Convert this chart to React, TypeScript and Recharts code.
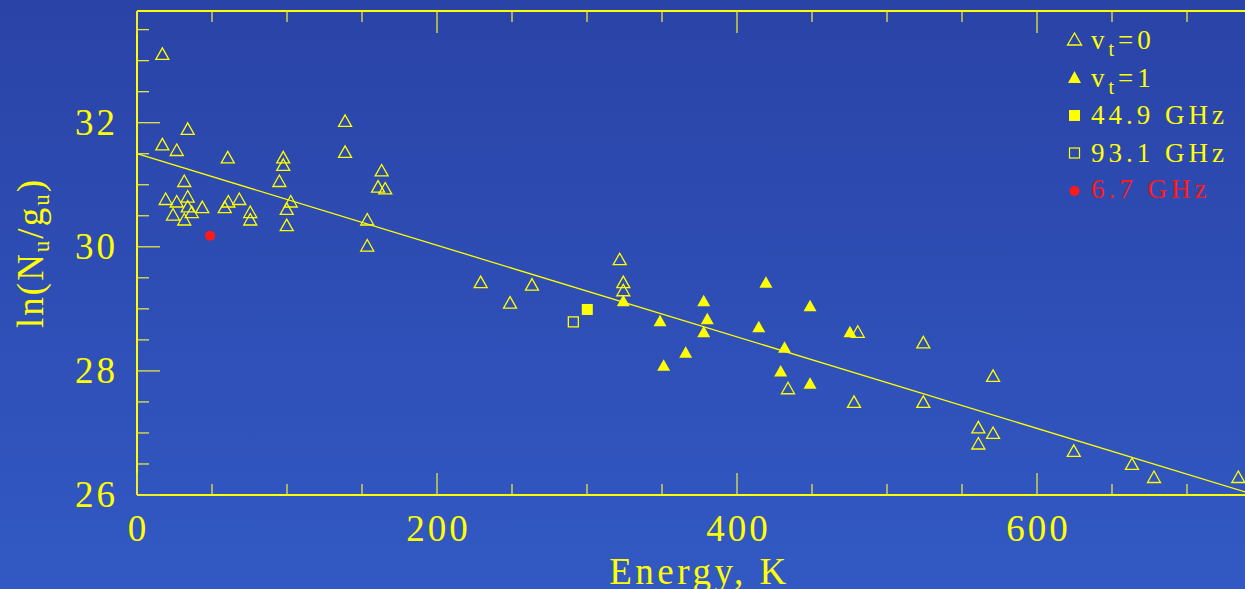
import React from "react";
import { ScatterChart, Scatter, XAxis, YAxis, ReferenceLine, Label } from "recharts";

// v_t = 0 lines (open triangles)
const V0_ENERGY = [16.9, 33.8, 16.9, 26.5, 60.5, 97.5, 97.5, 94.9, 138.7, 138.7, 163.1, 160.7, 165.5, 31.5, 19.1, 26.5, 33.8, 33.8, 36.5, 43.5, 24, 31.5, 60.9, 58.5, 68.2, 75.5, 75.5, 102.5, 99.8, 99.8, 153.5, 153.5, 229.1, 263.3, 248.7, 321.8, 324.2, 324.2, 434, 480.5, 478, 524.2, 524.2, 570.7, 560.9, 570.7, 560.9, 624.5, 663.3, 678, 734.2];
const V0_LN = [33.11, 31.9, 31.65, 31.56, 31.44, 31.44, 31.32, 31.06, 32.03, 31.53, 31.23, 30.97, 30.94, 31.06, 30.77, 30.73, 30.81, 30.65, 30.56, 30.64, 30.52, 30.44, 30.73, 30.64, 30.77, 30.56, 30.44, 30.73, 30.61, 30.35, 30.44, 30.02, 29.43, 29.39, 29.1, 29.8, 29.43, 29.3, 27.72, 28.63, 27.5, 28.46, 27.5, 27.92, 27.09, 27.0, 26.83, 26.71, 26.5, 26.29, 26.29];

// v_t = 1 lines (filled triangles)
const V1_ENERGY = [324.2, 348.7, 351.1, 365.8, 377.8, 380.2, 377.8, 419.3, 414.5, 431.7, 429.1, 448.7, 448.7, 475.3];
const V1_LN = [29.13, 28.81, 28.09, 28.3, 29.13, 28.84, 28.63, 29.43, 28.71, 28.38, 28.0, 29.05, 27.8, 28.63];

// maser lines
const G449_ENERGY = [300.2];
const G449_LN = [28.99];
const G931_ENERGY = [290.9];
const G931_LN = [28.79];
const G67_ENERGY = [48.7];
const G67_LN = [30.18];

// rotation diagram fit
const FIT_ENERGY = [0, 740];
const FIT_LN = [31.5, 26.04];

const X_TICKS = [0, 50, 100, 150, 200, 250, 300, 350, 400, 450, 500, 550, 600, 650, 700, 750];
const X_LABELS = [0, 200, 400, 600];
const Y_TICKS = [26, 26.5, 27, 27.5, 28, 28.5, 29, 29.5, 30, 30.5, 31, 31.5, 32, 32.5, 33, 33.5];
const Y_LABELS = [26, 28, 30, 32];

const YEL = "#ffff00";
const TICK = "#e6e640";
const RED = "#ff1a1a";
const FONT = "'Liberation Serif', 'DejaVu Serif', serif";

const zip = (xs: number[], ys: number[]) => xs.map((x, i) => ({ x, y: ys[i] }));

const openTri = (p: any) => (
  <polygon
    points={`${p.cx},${p.cy - 6} ${p.cx - 6.5},${p.cy + 5.5} ${p.cx + 6.5},${p.cy + 5.5}`}
    fill="none"
    stroke={YEL}
    strokeWidth={1.3}
  />
);
const fillTri = (p: any) => (
  <polygon
    points={`${p.cx},${p.cy - 6} ${p.cx - 6.5},${p.cy + 5.5} ${p.cx + 6.5},${p.cy + 5.5}`}
    fill={YEL}
  />
);
const fillSq = (p: any) => <rect x={p.cx - 5.5} y={p.cy - 5.5} width={11} height={11} fill={YEL} />;
const openSq = (p: any) => (
  <rect x={p.cx - 5} y={p.cy - 5} width={10} height={10} fill="none" stroke={YEL} strokeWidth={1.3} />
);
const redDot = (p: any) => <circle cx={p.cx} cy={p.cy} r={5} fill={RED} />;

const BottomTick = (props: any) => {
  const { x, y, payload } = props;
  const major = X_LABELS.includes(payload.value);
  return (
    <g>
      <line x1={x} x2={x} y1={y} y2={y - (major ? 22 : 11)} stroke={TICK} strokeWidth={1.3} />
      {major && (
        <text x={x + 1.5} y={y + 46} textAnchor="middle" fill={YEL} fontSize={37} fontFamily={FONT} letterSpacing={3}>
          {payload.value}
        </text>
      )}
    </g>
  );
};

const TopTick = (props: any) => {
  const { x, y, payload } = props;
  const major = X_LABELS.includes(payload.value);
  return <line x1={x} x2={x} y1={y} y2={y + (major ? 22 : 11)} stroke={TICK} strokeWidth={1.3} />;
};

const LeftTick = (props: any) => {
  const { x, y, payload } = props;
  const major = Y_LABELS.includes(payload.value);
  return (
    <g>
      <line x1={x} x2={x + (major ? 23 : 12)} y1={y} y2={y} stroke={TICK} strokeWidth={1.3} />
      {major && (
        <text x={x - 19} y={y + 12} textAnchor="end" fill={YEL} fontSize={37} fontFamily={FONT} letterSpacing={3}>
          {payload.value}
        </text>
      )}
    </g>
  );
};

const YTitle = (props: any) => {
  const vb = props.viewBox;
  const cy = vb.y + vb.height / 2;
  return (
    <text
      transform={`translate(43, ${cy}) rotate(-90)`}
      textAnchor="middle"
      fill={YEL}
      fontSize={37}
      fontFamily={FONT}
      letterSpacing={2}
    >
      ln(N
      <tspan fontSize={23} dy={6}>u</tspan>
      <tspan dy={-6}>/g</tspan>
      <tspan fontSize={23} dy={6}>u</tspan>
      <tspan dy={-6}>)</tspan>
    </text>
  );
};

const XTitle = (props: any) => {
  const vb = props.viewBox;
  return (
    <text
      x={vb.x + vb.width / 2}
      y={584}
      textAnchor="middle"
      fill={YEL}
      fontSize={37}
      fontFamily={FONT}
      letterSpacing={3.5}
    >
      Energy, K
    </text>
  );
};

function LegendBox() {
  const mx = 1074.5;
  const tx = 1091;
  const rows = [39, 77, 115.5, 153, 191];
  const txt = { fontSize: 27, fontFamily: FONT, letterSpacing: 4 };
  return (
    <svg width={1245} height={589} style={{ position: "absolute", left: 0, top: 0, pointerEvents: "none" }}>
      <polygon
        points={`${mx},${rows[0] - 6} ${mx - 7},${rows[0] + 6} ${mx + 7},${rows[0] + 6}`}
        fill="none"
        stroke={YEL}
        strokeWidth={1.3}
      />
      <text x={tx} y={rows[0] + 10} fill={YEL} {...txt}>
        v<tspan fontSize={20} dy={7}>t</tspan>
        <tspan dy={-7}>=0</tspan>
      </text>
      <polygon points={`${mx},${rows[1] - 6} ${mx - 6.5},${rows[1] + 6} ${mx + 6.5},${rows[1] + 6}`} fill={YEL} />
      <text x={tx} y={rows[1] + 10} fill={YEL} {...txt}>
        v<tspan fontSize={20} dy={7}>t</tspan>
        <tspan dy={-7}>=1</tspan>
      </text>
      <rect x={mx - 5.5} y={rows[2] - 5.5} width={11} height={11} fill={YEL} />
      <text x={tx} y={rows[2] + 8} fill={YEL} {...txt}>44.9 GHz</text>
      <rect x={mx - 5} y={rows[3] - 5} width={10} height={10} fill="none" stroke={YEL} strokeWidth={1.2} />
      <text x={tx} y={rows[3] + 9} fill={YEL} {...txt}>93.1 GHz</text>
      <circle cx={mx} cy={rows[4]} r={5} fill={RED} />
      <text x={tx} y={rows[4] + 7} fill={RED} {...txt}>6.7 GHz</text>
    </svg>
  );
}

export default function App() {
  return (
    <div
      style={{
        position: "fixed",
        left: 0,
        top: 0,
        width: 1245,
        height: 589,
        overflow: "hidden",
        background: "linear-gradient(#2a43a7, #3259c3)",
      }}
    >
      <ScatterChart width={1300} height={589} margin={{ top: 10, right: 38, left: 0, bottom: 0 }}>
        <XAxis
          xAxisId={0}
          type="number"
          dataKey="x"
          domain={[0, 750]}
          ticks={X_TICKS}
          interval={0}
          height={94}
          tickSize={0}
          tickMargin={0}
          tickLine={false}
          tick={<BottomTick />}
          axisLine={{ stroke: YEL, strokeWidth: 2 }}
          allowDataOverflow
        >
          <Label content={<XTitle />} />
        </XAxis>
        <XAxis
          xAxisId="top"
          orientation="top"
          type="number"
          dataKey="x"
          domain={[0, 750]}
          ticks={X_TICKS}
          interval={0}
          height={1}
          tickSize={0}
          tickMargin={0}
          tickLine={false}
          tick={<TopTick />}
          axisLine={{ stroke: YEL, strokeWidth: 2 }}
          allowDataOverflow
        />
        <YAxis
          type="number"
          dataKey="y"
          domain={[26, 33.8]}
          ticks={Y_TICKS}
          interval={0}
          width={137}
          tickSize={0}
          tickMargin={0}
          tickLine={false}
          tick={<LeftTick />}
          axisLine={{ stroke: YEL, strokeWidth: 2 }}
          allowDataOverflow
        >
          <Label content={<YTitle />} />
        </YAxis>
        <ReferenceLine
          xAxisId="top"
          segment={[
            { x: FIT_ENERGY[0], y: FIT_LN[0] },
            { x: FIT_ENERGY[1], y: FIT_LN[1] },
          ]}
          stroke={YEL}
          strokeWidth={1.3}
          ifOverflow="visible"
        />
        <Scatter data={zip(V0_ENERGY, V0_LN)} shape={openTri} isAnimationActive={false} />
        <Scatter data={zip(V1_ENERGY, V1_LN)} shape={fillTri} isAnimationActive={false} />
        <Scatter data={zip(G449_ENERGY, G449_LN)} shape={fillSq} isAnimationActive={false} />
        <Scatter data={zip(G931_ENERGY, G931_LN)} shape={openSq} isAnimationActive={false} />
        <Scatter data={zip(G67_ENERGY, G67_LN)} shape={redDot} isAnimationActive={false} />
      </ScatterChart>
      <LegendBox />
    </div>
  );
}
